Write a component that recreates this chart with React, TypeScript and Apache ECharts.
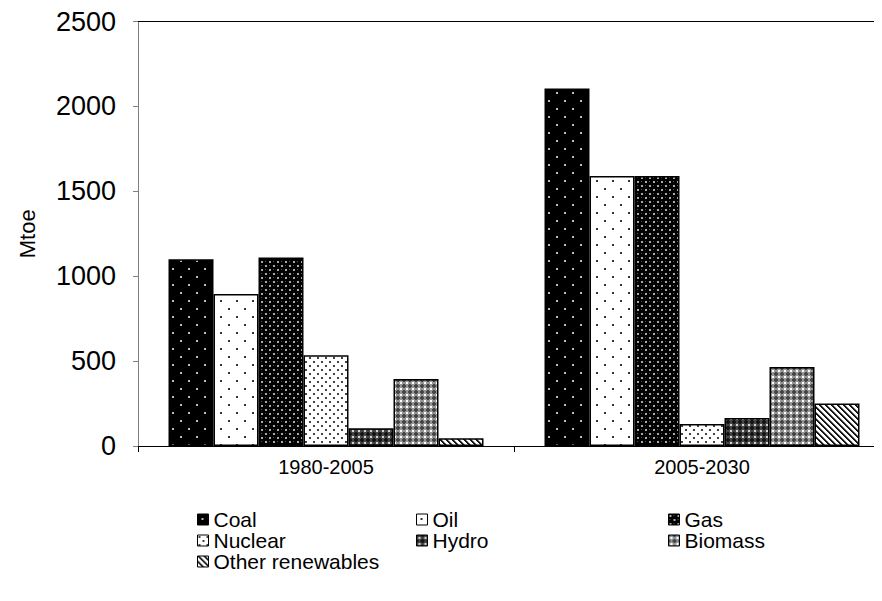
import React, { useEffect, useRef } from "react";
import * as echarts from "echarts";

const categories = ["1980-2005", "2005-2030"];
const seriesNames = ["Coal", "Oil", "Gas", "Nuclear", "Hydro", "Biomass", "Other renewables"];
const period1980 = [1100, 895, 1110, 535, 105, 395, 45];
const period2005 = [2105, 1590, 1590, 130, 165, 465, 250];
const yTicks = { min: 0, max: 2500, interval: 500 };

const legendColumns = [
  ["Coal", "Nuclear", "Other renewables"],
  ["Oil", "Hydro"],
  ["Gas", "Biomass"],
];

const FONT = "'Liberation Sans', Arial, sans-serif";

function makeTile(size: number, draw: (ctx: CanvasRenderingContext2D) => void) {
  const c = document.createElement("canvas");
  c.width = size;
  c.height = size;
  const ctx = c.getContext("2d")!;
  draw(ctx);
  return { image: c, repeat: "repeat", imageWidth: size, imageHeight: size } as any;
}

function pixelTile(size: number, f: (x: number, y: number) => number) {
  return makeTile(size, (ctx) => {
    const img = ctx.createImageData(size, size);
    for (let y = 0; y < size; y++) {
      for (let x = 0; x < size; x++) {
        const v = f(x, y);
        const i = (y * size + x) * 4;
        img.data[i] = v;
        img.data[i + 1] = v;
        img.data[i + 2] = v;
        img.data[i + 3] = 255;
      }
    }
    ctx.putImageData(img, 0, 0);
  });
}

function patternFor(name: string) {
  switch (name) {
    case "Coal":
      return makeTile(16, (ctx) => {
        ctx.fillStyle = "#000";
        ctx.fillRect(0, 0, 16, 16);
        ctx.fillStyle = "#bbb";
        ctx.fillRect(4, 4, 2, 2);
        ctx.fillRect(12, 12, 2, 2);
      });
    case "Oil":
      return makeTile(16, (ctx) => {
        ctx.fillStyle = "#fff";
        ctx.fillRect(0, 0, 16, 16);
        ctx.fillStyle = "#333";
        ctx.fillRect(4, 4, 2, 2);
        ctx.fillRect(12, 12, 2, 2);
      });
    case "Gas":
      return makeTile(8, (ctx) => {
        ctx.fillStyle = "#000";
        ctx.fillRect(0, 0, 8, 8);
        ctx.fillStyle = "#aaa";
        ctx.fillRect(1, 1, 2, 2);
        ctx.fillRect(5, 5, 2, 2);
        ctx.fillStyle = "#555";
        ctx.fillRect(5, 1, 1, 1);
        ctx.fillRect(1, 5, 1, 1);
      });
    case "Nuclear":
      return makeTile(8, (ctx) => {
        ctx.fillStyle = "#fff";
        ctx.fillRect(0, 0, 8, 8);
        ctx.fillStyle = "#444";
        ctx.fillRect(1, 1, 2, 2);
        ctx.fillRect(5, 5, 2, 2);
      });
    case "Hydro":
      return pixelTile(6, (x, y) => {
        const d = Math.abs(x - 2.5) + Math.abs(y - 2.5);
        return d <= 1 ? 210 : d <= 3 ? 70 : 20;
      });
    case "Biomass":
      return pixelTile(6, (x, y) => {
        const d = Math.abs(x - 2.5) + Math.abs(y - 2.5);
        return d <= 1 ? 255 : d <= 3 ? 150 : 70;
      });
    default:
      return pixelTile(6, (x, y) => {
        const k = (x - y + 60) % 6;
        return k < 2 ? 20 : k < 3 ? 140 : 255;
      });
  }
}

export default function App() {
  const ref = useRef<HTMLDivElement>(null);
  useEffect(() => {
    if (!ref.current) return;
    const chart = echarts.init(ref.current, null, { renderer: "svg" });
    const series = seriesNames.map((name, i) => ({
      name,
      type: "bar",
      barWidth: 45,
      barGap: "0%",
      data: [period1980[i], period2005[i]],
      itemStyle: { color: patternFor(name), borderColor: "#000", borderWidth: 1.5 },
    }));
    chart.setOption({
      animation: false,
      backgroundColor: "#fff",
      textStyle: { fontFamily: FONT },
      grid: { left: 122, right: -4, top: 12, bottom: 163, containLabel: false },
      xAxis: [
        {
          type: "category",
          data: categories,
          position: "bottom",
          axisLine: { show: true, lineStyle: { color: "#000", width: 1 } },
          axisTick: { show: true, length: 6, lineStyle: { color: "#000" } },
          axisLabel: { fontSize: 20, color: "#000", margin: 11, fontFamily: FONT },
          splitLine: { show: false },
        },
        {
          type: "category",
          data: categories,
          position: "top",
          axisLine: { show: true, lineStyle: { color: "#000", width: 1 } },
          axisTick: { show: false },
          axisLabel: { show: false },
          splitLine: { show: false },
        },
      ],
      yAxis: {
        type: "value",
        min: yTicks.min,
        max: yTicks.max,
        interval: yTicks.interval,
        name: "Mtoe",
        nameLocation: "middle",
        nameRotate: 90,
        nameGap: 100,
        nameTextStyle: { fontSize: 22, color: "#000", fontFamily: FONT },
        axisLine: { show: true, lineStyle: { color: "#808080", width: 1 } },
        axisTick: { show: true, length: 5, lineStyle: { color: "#808080" } },
        axisLabel: {
          fontSize: 27,
          color: "#000",
          margin: 22,
          fontFamily: FONT,
          formatter: (v: number) => String(v),
        },
        splitLine: { show: false },
      },
      legend: legendColumns.map((items, k) => ({
        data: items,
        orient: "vertical",
        left: [189, 408, 660][k],
        top: 501,
        itemWidth: 11,
        itemHeight: 11,
        itemGap: 0,
        icon: "rect",
        selectedMode: false,
        textStyle: { fontSize: 21, color: "#000", lineHeight: 18, padding: [0, 0, 0, 0], fontFamily: FONT },
        itemStyle: { borderColor: "#000", borderWidth: 1 },
        padding: 0,
      })),
      series,
    });
    return () => chart.dispose();
  }, []);
  return <div ref={ref} style={{ width: 882, height: 601 }} />;
}
